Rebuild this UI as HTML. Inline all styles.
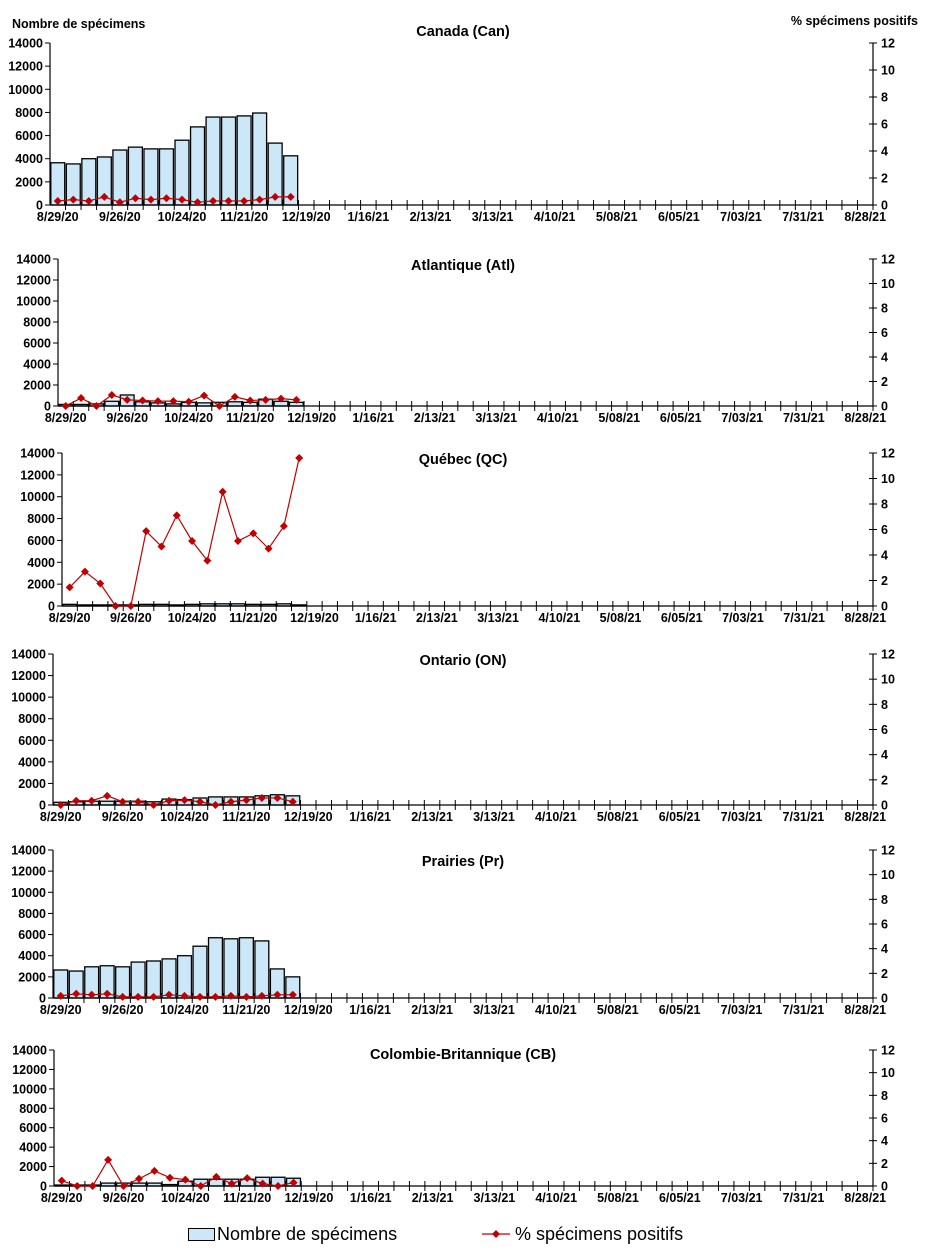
<!DOCTYPE html>
<html><head><meta charset="utf-8"><style>
body{margin:0;background:#fff;}
svg{display:block;font-family:"Liberation Sans",Arial,sans-serif;}
</style></head><body>
<svg id="chart" width="926" height="1257" viewBox="0 0 926 1257"></svg>
<script>
const weekLabels=["8/29/20","9/26/20","10/24/20","11/21/20","12/19/20","1/16/21","2/13/21","3/13/21","4/10/21","5/08/21","6/05/21","7/03/21","7/31/21","8/28/21"];
const leftTicks=[0,2000,4000,6000,8000,10000,12000,14000];
const rightTicks=[0,2,4,6,8,10,12];
const canSpec=[3650,3550,4000,4150,4750,5000,4850,4850,5600,6750,7600,7600,7700,7950,5350,4250];
const canPct=[0.3,0.4,0.3,0.6,0.2,0.5,0.4,0.5,0.4,0.2,0.3,0.3,0.3,0.4,0.6,0.6];
const atlSpec=[150,150,200,450,1050,400,300,200,350,300,350,400,350,650,450,350];
const atlPct=[0,0.65,0,0.9,0.5,0.45,0.4,0.4,0.35,0.85,0,0.75,0.45,0.5,0.6,0.5];
const qcSpec=[150,100,100,100,100,150,150,100,150,200,200,200,150,150,200,100];
const qcPct=[1.46,2.7,1.76,0,0,5.87,4.67,7.11,5.1,3.56,8.96,5.1,5.7,4.5,6.26,11.61];
const onSpec=[250,300,350,350,350,350,300,550,500,650,750,750,750,850,950,850];
const onPct=[0,0.34,0.34,0.73,0.26,0.26,0,0.34,0.39,0.26,0,0.26,0.39,0.56,0.56,0.26];
const prSpec=[2650,2550,2950,3050,2950,3400,3500,3700,4000,4900,5700,5600,5700,5400,2750,2000];
const prPct=[0.17,0.34,0.26,0.34,0.09,0.09,0.09,0.26,0.17,0.09,0.09,0.17,0.09,0.17,0.26,0.26];
const cbSpec=[100,100,100,300,300,300,300,150,500,700,700,700,700,900,900,800];
const cbPct=[0.47,0,0,2.31,0,0.64,1.33,0.73,0.56,0,0.81,0.21,0.69,0.21,0,0.3];

const panels=[
 {name:"canada",title:"Canada (Can)",spec:canSpec,pct:canPct,xL:50,top:43,y0:205,ty:36},
 {name:"atlantique",title:"Atlantique (Atl)",spec:atlSpec,pct:atlPct,xL:58,top:259,y0:406,ty:270},
 {name:"quebec",title:"Québec (QC)",spec:qcSpec,pct:qcPct,xL:62,top:453,y0:606,ty:464},
 {name:"ontario",title:"Ontario (ON)",spec:onSpec,pct:onPct,xL:53,top:654,y0:805,ty:665},
 {name:"prairies",title:"Prairies (Pr)",spec:prSpec,pct:prPct,xL:53,top:850,y0:998,ty:866},
 {name:"colombie-britannique",title:"Colombie-Britannique (CB)",spec:cbSpec,pct:cbPct,xL:54,top:1050,y0:1186,ty:1059}
];
const NS="http://www.w3.org/2000/svg";
const svg=document.getElementById("chart");
const XR=873, NCAT=53;
function mk(tag,attrs,parent,txt){const e=document.createElementNS(NS,tag);for(const k in attrs)e.setAttribute(k,attrs[k]);if(txt!==undefined)e.textContent=txt;(parent||svg).appendChild(e);return e;}

panels.forEach(p=>{
 const g=mk("g",{});
 
 
 const step=(XR-p.xL)/NCAT;
 const xs=i=>p.xL+i*step;
 const yL=v=>p.y0-(v/14000)*(p.y0-p.top);
 const yR=v=>p.y0-(v/12)*(p.y0-p.top);
 const t=mk("text",{x:463,y:p.ty,"text-anchor":"middle","font-size":"14.5","font-weight":"bold"},g,p.title);
 
 
 // bars
 p.spec.forEach((v,i)=>{
  const b=mk("rect",{x:xs(i)+0.8,y:yL(v),width:step-1.6,height:p.y0-yL(v),fill:"#cce8f8",stroke:"#000","stroke-width":"1.3"},g);
  
  
 });
 // axes
 mk("line",{x1:p.xL,y1:p.top,x2:p.xL,y2:p.y0,stroke:"#000","stroke-width":"1.2"},g);
 mk("line",{x1:XR,y1:p.top,x2:XR,y2:p.y0,stroke:"#000","stroke-width":"1.2"},g);
 mk("line",{x1:p.xL,y1:p.y0,x2:XR,y2:p.y0,stroke:"#000","stroke-width":"1.2"},g);
 leftTicks.forEach(v=>{
  mk("line",{x1:p.xL-5,y1:yL(v),x2:p.xL,y2:yL(v),stroke:"#000"},g);
  const l=mk("text",{x:p.xL-7,y:yL(v)+4.5,"text-anchor":"end","font-size":"12.5","font-weight":"bold"},g,v);
  
  
 });
 rightTicks.forEach(v=>{
  mk("line",{x1:XR-4,y1:yR(v),x2:XR+4,y2:yR(v),stroke:"#000"},g);
  const l=mk("text",{x:XR+8,y:yR(v)+4.5,"font-size":"12.5","font-weight":"bold"},g,v);
  
  
 });
 for(let i=1;i<=NCAT;i++){mk("line",{x1:xs(i),y1:p.y0-5,x2:xs(i),y2:p.y0+5,stroke:"#000"},g);}
 weekLabels.forEach((w,k)=>{
  const l=mk("text",{x:xs(k*4+0.5),y:p.y0+16,"text-anchor":"middle","font-size":"12.5","font-weight":"bold"},g,w);
  
  
 });
 // line
 const pts=p.pct.map((v,i)=>[xs(i+0.5),yR(v)]);
 const pl=mk("polyline",{points:pts.map(q=>q.join(",")).join(" "),fill:"none",stroke:"#c00000","stroke-width":"1.2"},g);
 
 
 pts.forEach(q=>{
  const d=mk("path",{d:`M${q[0]},${q[1]-4}L${q[0]+4},${q[1]}L${q[0]},${q[1]+4}L${q[0]-4},${q[1]}Z`,fill:"#c00000"},g);
  
  
 });
});
</script>
<svg width="0" height="0" style="position:absolute"></svg>
<div style="position:absolute;left:0;top:0;width:926px;height:1257px;pointer-events:none;font-family:'Liberation Sans',Arial,sans-serif;">
 <div style="position:absolute;left:12px;top:17px;font-size:12.5px;font-weight:bold;">Nombre de spécimens</div>
 <div style="position:absolute;right:8px;top:14px;font-size:12.5px;font-weight:bold;">% spécimens positifs</div>
 <div style="position:absolute;left:188px;top:1224px;font-size:18px;">
  <div style="position:absolute;left:0;top:0;white-space:nowrap;">
   <span style="display:inline-block;width:25px;height:11px;background:#cce8f8;border:1px solid #000;vertical-align:-1px;margin-right:2px;"></span>Nombre de spécimens</div>
  <div style="position:absolute;left:294px;top:0;white-space:nowrap;">
   <svg width="28" height="12" style="display:inline-block;vertical-align:0px;"><line x1="0" y1="6" x2="28" y2="6" stroke="#c00000" stroke-width="1.2"/><path d="M14,2L18,6L14,10L10,6Z" fill="#c00000"/></svg> % spécimens positifs</div>
 </div>
</div>
</body></html>
